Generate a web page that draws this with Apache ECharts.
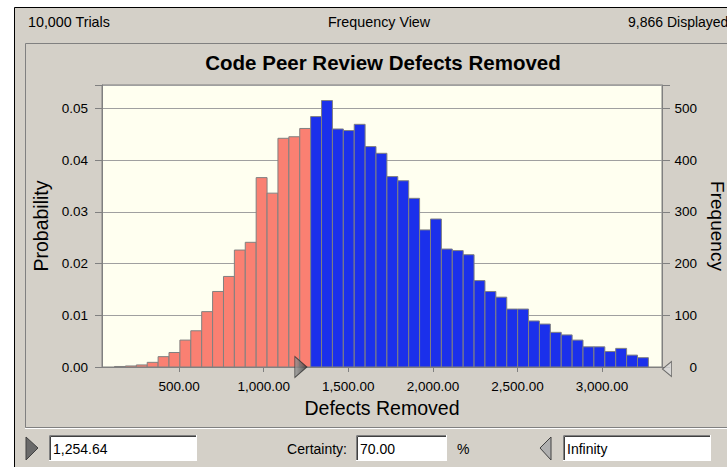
<!DOCTYPE html>
<html>
<head>
<meta charset="utf-8">
<script src="https://cdn.jsdelivr.net/npm/echarts@6/dist/echarts.min.js"></script>
<style>
  html, body { margin: 0; padding: 0; background: #fff; }
  #main { width: 727px; height: 467px; }
</style>
</head>
<body>
<div id="main"></div>
<script>
// histogram bins (x in "Defects Removed"), counts
var binStart = 118;
var binWidth = 64.4;
var freqCounts = [
  1, 2, 4, 9, 20, 28, 52, 70, 107, 146, 175, 226, 241, 366, 336, 442, 445, 461,
  484, 515, 460, 457, 469, 426, 413, 368, 360, 326, 265, 286, 228, 225, 217,
  167, 146, 135, 112, 112, 89, 83, 67, 62, 52, 39, 39, 30, 36, 23, 18
];
var xTickValues = [500, 1000, 1500, 2000, 2500, 3000];
var certaintyLow = 1254.64;
var certaintyPct = '70.00';
var certaintyHigh = 'Infinity';
var trialsText = '10,000 Trials';
var displayedText = '9,866 Displayed';

var xMin = 44, xMax = 3354;

var bins = [];
for (var i = 0; i < freqCounts.length; i++) {
  var s = binStart + i * binWidth;
  bins.push([s, s + binWidth, freqCounts[i]]);
}

var FONT = '"Liberation Sans", Arial, sans-serif';
var PANEL = '#D4D0C8';

function fmtNum(v) {
  return v.toLocaleString('en-US', { minimumFractionDigits: 2, maximumFractionDigits: 2 });
}

// sunken windows edit box
function editBox(x, y, w, h, txt) {
  return [
    { type: 'rect', shape: { x: x, y: y, width: w, height: h }, style: { fill: '#fff' } },
    { type: 'polyline', shape: { points: [[x + 0.5, y + h], [x + 0.5, y + 0.5], [x + w, y + 0.5]] }, style: { stroke: '#808080', lineWidth: 1, fill: null } },
    { type: 'polyline', shape: { points: [[x + 1.5, y + h - 1], [x + 1.5, y + 1.5], [x + w - 1, y + 1.5]] }, style: { stroke: '#404040', lineWidth: 1, fill: null } },
    { type: 'polyline', shape: { points: [[x, y + h - 0.5], [x + w - 0.5, y + h - 0.5], [x + w - 0.5, y]] }, style: { stroke: '#fff', lineWidth: 1, fill: null } },
    { type: 'text', style: { text: txt, x: x + 4, y: y + h / 2 + 1, textVerticalAlign: 'middle', font: '14px ' + FONT, fill: '#000' } }
  ];
}

var chart = echarts.init(document.getElementById('main'), null, { renderer: 'svg' });

var graphics = [
  // window background
  { type: 'rect', z: -10, shape: { x: 14.5, y: 7.5, width: 740, height: 480 }, style: { fill: PANEL, stroke: '#000', lineWidth: 1 } },
  // chart panel
  { type: 'rect', z: -9, shape: { x: 25.5, y: 43.5, width: 740, height: 384 }, style: { fill: PANEL, stroke: '#808080', lineWidth: 1 } },
  { type: 'line', z: -9, shape: { x1: 25, y1: 428.5, x2: 727, y2: 428.5 }, style: { stroke: '#fff', lineWidth: 1 } },
  // header
  { type: 'text', style: { text: trialsText, x: 28, y: 22, textVerticalAlign: 'middle', font: '14.3px ' + FONT, fill: '#000' } },
  { type: 'text', style: { text: 'Frequency View', x: 379, y: 22, textAlign: 'center', textVerticalAlign: 'middle', font: '14.3px ' + FONT, fill: '#000' } },
  { type: 'text', style: { text: displayedText, x: 628, y: 22, textVerticalAlign: 'middle', font: '14px ' + FONT, fill: '#000' } },
  // bottom controls
  { type: 'polygon', shape: { points: [[26, 437], [38, 448], [26, 460]] }, style: { fill: '#6a6a6a', stroke: '#404040', lineWidth: 1 } },
  { type: 'text', style: { text: 'Certainty:', x: 347, y: 449, textAlign: 'right', textVerticalAlign: 'middle', font: '14px ' + FONT, fill: '#000' } },
  { type: 'text', style: { text: '%', x: 457, y: 449, textVerticalAlign: 'middle', font: '14px ' + FONT, fill: '#000' } },
  { type: 'polygon', shape: { points: [[551, 437], [540, 448], [551, 460]] }, style: { fill: '#b0b0b0', stroke: '#404040', lineWidth: 1 } }
].concat(editBox(49, 435, 148, 26, fmtNum(certaintyLow)))
 .concat(editBox(356, 435, 91, 26, certaintyPct))
 .concat(editBox(563, 435, 148, 26, certaintyHigh));

var option = {
  backgroundColor: '#fff',
  animation: false,
  title: {
    text: 'Code Peer Review Defects Removed',
    left: 378,
    top: 47,
    textAlign: 'center',
    textStyle: { fontFamily: FONT, fontSize: 20.5, fontWeight: 'bold', color: '#000' }
  },
  grid: {
    left: 102, right: 65, top: 85, bottom: 100,
    outerBoundsMode: 'none',
    containLabel: false,
    show: true,
    backgroundColor: '#FFFFF0',
    borderColor: '#808080',
    borderWidth: 1
  },
  xAxis: {
    type: 'value',
    min: xMin,
    max: xMax,
    name: 'Defects Removed',
    nameLocation: 'middle',
    nameGap: 29,
    nameTextStyle: { fontFamily: FONT, fontSize: 19.5, color: '#000' },
    axisLine: { show: true, lineStyle: { color: '#808080' } },
    axisTick: { show: true, length: 5, customValues: xTickValues, lineStyle: { color: '#808080' } },
    axisLabel: {
      customValues: xTickValues,
      margin: 12,
      fontFamily: FONT, fontSize: 13.5, color: '#000',
      formatter: function (v) { return fmtNum(v); }
    },
    splitLine: { show: false }
  },
  yAxis: [
    {
      type: 'value',
      min: 0,
      max: 0.0545,
      interval: 0.01,
      position: 'left',
      name: 'Probability',
      nameLocation: 'middle',
      nameGap: 51,
      nameTextStyle: { fontFamily: FONT, fontSize: 19.5, color: '#000' },
      axisLine: { show: true, lineStyle: { color: '#808080' } },
      axisTick: { show: true, length: 7, lineStyle: { color: '#808080' } },
      axisLabel: {
        margin: 14,
        fontFamily: FONT, fontSize: 13.5, color: '#000',
        formatter: function (v) { return v > 0.0541 ? '' : v.toFixed(2); }
      },
      splitLine: { show: true, lineStyle: { color: '#A0A0A0', width: 1 } }
    },
    {
      type: 'value',
      min: 0,
      max: 545,
      interval: 100,
      position: 'right',
      name: 'Frequency',
      nameLocation: 'middle',
      nameGap: 38,
      nameRotate: -90,
      nameTextStyle: { fontFamily: FONT, fontSize: 19, color: '#000' },
      axisLine: { show: true, lineStyle: { color: '#808080' } },
      axisTick: { show: true, length: 8, lineStyle: { color: '#808080' } },
      axisLabel: {
        margin: 35,
        align: 'right',
        fontFamily: FONT, fontSize: 13.5, color: '#000',
        formatter: function (v) { return v > 541 ? '' : String(v); }
      },
      splitLine: { show: false }
    }
  ],
  series: [
    {
      type: 'custom',
      yAxisIndex: 1,
      data: bins,
      renderItem: function (params, api) {
        var p0 = api.coord([api.value(0), 0]);
        var p1 = api.coord([api.value(1), api.value(2)]);
        var isBlue = api.value(0) >= certaintyLow;
        return {
          type: 'rect',
          shape: { x: p0[0], y: p1[1], width: p1[0] - p0[0], height: p0[1] - p1[1] },
          style: { fill: isBlue ? '#1B30EB' : '#FA8072', stroke: '#808080', lineWidth: 1 }
        };
      }
    },
    {
      type: 'scatter',
      yAxisIndex: 1,
      clip: false,
      silent: true,
      z: 5,
      data: [[certaintyLow, 0]],
      symbol: 'path://M0,0L12,11L0,22Z',
      symbolSize: [12, 21],
      symbolOffset: [-6, 0],
      itemStyle: {
        color: new echarts.graphic.LinearGradient(0, 0, 1, 0, [
          { offset: 0, color: '#9a9a9a' }, { offset: 1, color: '#3c3c3c' }
        ]),
        borderColor: '#303030',
        borderWidth: 1
      }
    },
    {
      type: 'scatter',
      yAxisIndex: 1,
      clip: false,
      silent: true,
      z: 5,
      data: [[xMax, 0]],
      symbol: 'path://M12,0L0,11L12,22Z',
      symbolSize: [9, 15],
      symbolOffset: [5, 2],
      itemStyle: { color: '#d8d8d8', borderColor: '#505050', borderWidth: 1 }
    }
  ],
  graphic: graphics
};

chart.setOption(option);
</script>
</body>
</html>
